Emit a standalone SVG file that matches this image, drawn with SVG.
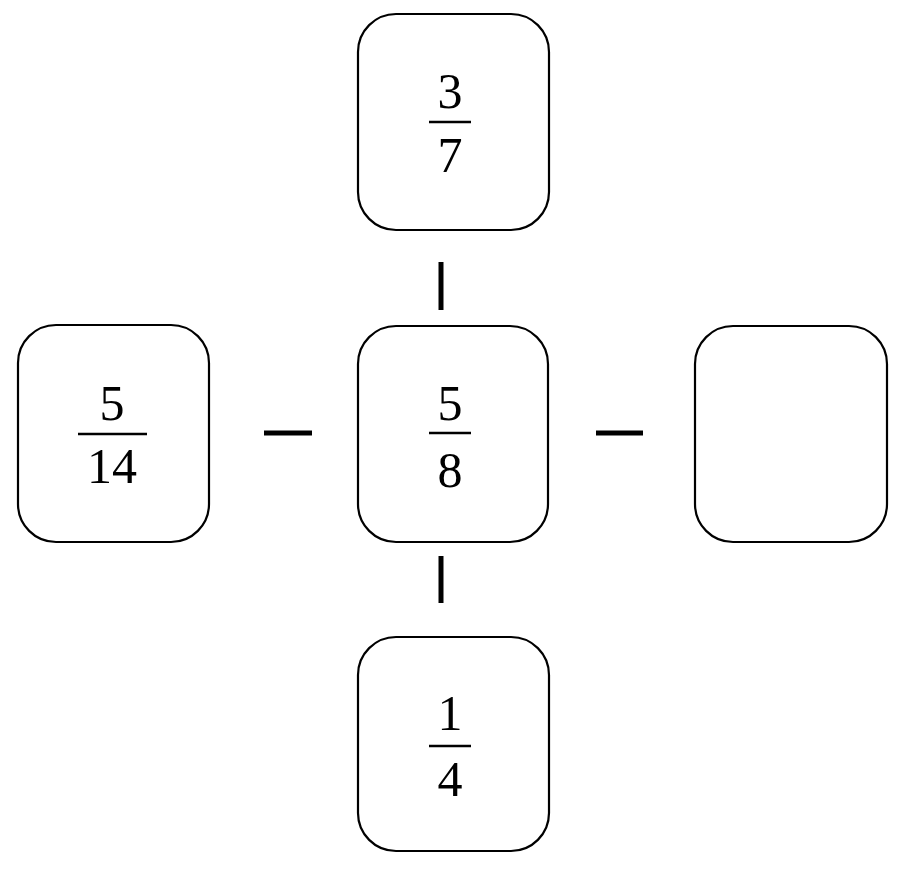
<svg xmlns="http://www.w3.org/2000/svg" width="911" height="872" viewBox="0 0 911 872">
<style>
.box{fill:#fff;stroke:#000;stroke-width:2.2}
.num{font-family:"Liberation Serif","Times New Roman",serif;font-size:50px;fill:#000;text-anchor:middle}
.bar{stroke:#000;stroke-width:2.5}
.conn{stroke:#000;stroke-width:5}
</style>
<rect width="911" height="872" fill="#fff"/>
<g id="connectors">
<line class="conn" x1="441" y1="262" x2="441" y2="310"/>
<line class="conn" x1="441" y1="556" x2="441" y2="603"/>
<line class="conn" x1="264" y1="433" x2="312" y2="433"/>
<line class="conn" x1="596" y1="433" x2="643" y2="433"/>
</g>
<g id="node-top">
<rect class="box" x="358" y="14" width="191" height="216" rx="38" ry="38"/>
<text class="num" x="450" y="108">3</text>
<line class="bar" x1="429" y1="122" x2="471" y2="122"/>
<text class="num" x="450" y="172">7</text>
</g>
<g id="node-left">
<rect class="box" x="18" y="325" width="191" height="217" rx="38" ry="38"/>
<text class="num" x="112" y="420">5</text>
<line class="bar" x1="78" y1="434" x2="147" y2="434"/>
<text class="num" x="112" y="483">14</text>
</g>
<g id="node-center">
<rect class="box" x="358" y="326" width="190" height="216" rx="38" ry="38"/>
<text class="num" x="450" y="420">5</text>
<line class="bar" x1="429" y1="433" x2="471" y2="433"/>
<text class="num" x="450" y="487">8</text>
</g>
<g id="node-right">
<rect class="box" x="695" y="326" width="192" height="216" rx="38" ry="38"/>
</g>
<g id="node-bottom">
<rect class="box" x="358" y="637" width="191" height="214" rx="38" ry="38"/>
<text class="num" x="450" y="730">1</text>
<line class="bar" x1="429" y1="746" x2="471" y2="746"/>
<text class="num" x="450" y="796">4</text>
</g>
</svg>
